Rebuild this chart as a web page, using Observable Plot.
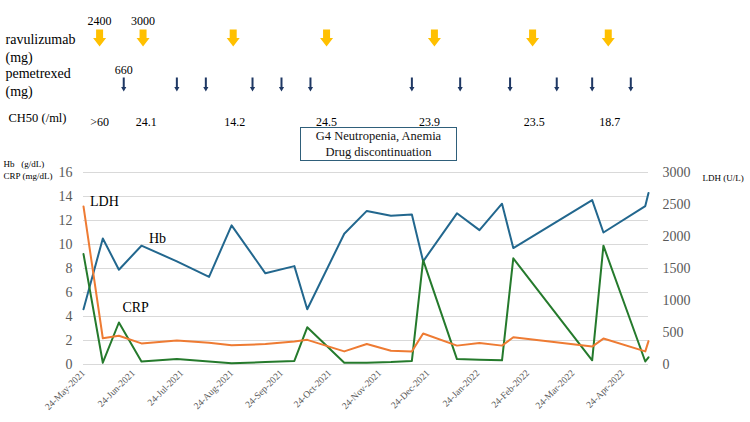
<!DOCTYPE html>
<html><head><meta charset="utf-8">
<script src="https://cdn.jsdelivr.net/npm/d3@7"></script>
<script src="https://cdn.jsdelivr.net/npm/@observablehq/plot@0.6"></script>
<style>
body{margin:0;background:#fff;}
#wrap{position:relative;width:750px;height:422px;font-family:"Liberation Serif","Times New Roman",serif;}
#wrap svg, #wrap svg text{font-family:"Liberation Serif","Times New Roman",serif !important;}
#box{position:absolute;left:300px;top:127px;width:157px;height:34px;box-sizing:border-box;border:1.5px solid #2F5F7A;display:flex;flex-direction:column;justify-content:center;align-items:center;font-size:12.5px;line-height:16px;color:#111;}
</style></head>
<body><div id="wrap"></div>
<script>
// ---- Laboratory data ----
const dates = ["2021-05-24","2021-06-05","2021-06-15","2021-06-29","2021-07-21","2021-08-10","2021-08-24","2021-09-14","2021-10-02","2021-10-10","2021-11-02","2021-11-16","2021-12-01","2021-12-14","2021-12-21","2022-01-11","2022-01-25","2022-02-08","2022-02-15","2022-04-05","2022-04-12","2022-05-08","2022-05-10"];
const hb  = [4.6,10.5,7.9,9.9,8.6,7.3,11.6,7.6,8.2,4.6,10.9,12.8,12.4,12.5,8.6,12.6,11.2,13.4,9.7,13.7,11.0,13.2,14.3];
const crp = [9.2,0.15,3.5,0.25,0.45,0.25,0.1,0.2,0.3,3.1,0.15,0.15,0.2,0.3,8.7,0.45,0.4,0.35,8.85,0.35,9.9,0.25,0.6];
const ldh = [2470,410,450,330,375,340,300,320,360,385,205,320,215,205,485,295,335,295,425,280,405,205,365];

// ---- Treatment annotations ----
const ravuDates = ["2021-06-03","2021-06-30","2021-08-25","2021-10-22","2021-12-28","2022-02-27","2022-04-15"];
const ravuDoses = ["2400","3000","","","","",""];
const pemeDates = ["2021-06-18","2021-07-21","2021-08-08","2021-09-06","2021-09-24","2021-10-12","2021-12-14","2022-01-13","2022-02-13","2022-03-14","2022-04-05","2022-04-29"];
const pemeDoses = ["660","","","","","","","","","","",""];
const ch50Dates = ["2021-06-03","2021-07-02","2021-08-26","2021-10-22","2021-12-25","2022-02-28","2022-04-16"];
const ch50Values = [">60","24.1","14.2","24.5","23.9","23.5","18.7"];

// ---- Axis ticks ----
const xTicks = ["2021-05-24","2021-06-24","2021-07-24","2021-08-24","2021-09-24","2021-10-24","2021-11-24","2021-12-24","2022-01-24","2022-02-24","2022-03-24","2022-04-24"];
const yTicks = [0,2,4,6,8,10,12,14,16];
const ldhTicks = [0,500,1000,1500,2000,2500,3000];

// ---- series labels (anchored to a data point) ----
const seriesLabels = [
  {name:"LDH", key:"ldh", index:0, dx:6.5, dy:-5},
  {name:"Hb",  key:"hb",  index:3, dx:7.5, dy:-7},
  {name:"CRP", key:"crp", index:2, dx:3.5, dy:-15}
];

const rows = dates.map((d,i)=>({date:new Date(d), hb:hb[i], crp:crp[i], ldh:ldh[i]}));
const Y_MAX = yTicks[yTicks.length-1], LDH_MAX = ldhTicks[ldhTicks.length-1];
const ldhY = v => v * Y_MAX / LDH_MAX;
const yOf = (key, r) => key === "ldh" ? ldhY(r.ldh) : r[key];

const colors = {hb:"#22678E", crp:"#257A2C", ldh:"#EE7B33"};
const FONT = "Liberation Serif";

const ravuRows = ravuDates.map((d,i)=>({date:new Date(d), dose:ravuDoses[i]}));
const pemeRows = pemeDates.map((d,i)=>({date:new Date(d), dose:pemeDoses[i]}));
const ch50Rows = ch50Dates.map((d,i)=>({date:new Date(d), value:ch50Values[i]}));

// block arrow shapes (drawn as custom dot symbols)
const blockArrow = {draw(c){c.moveTo(-3.5,-8.5);c.lineTo(3.5,-8.5);c.lineTo(3.5,0);c.lineTo(6.5,0);c.lineTo(0,8.5);c.lineTo(-6.5,0);c.lineTo(-3.5,0);c.closePath();}};
const thinArrow = {draw(c){c.moveTo(-1,-7);c.lineTo(1,-7);c.lineTo(1,2.5);c.lineTo(2.6,2.5);c.lineTo(0,7);c.lineTo(-2.6,2.5);c.lineTo(-1,2.5);c.closePath();}};

const label = (text, anchor, dx, dy, opts={}) => Plot.text([text], {frameAnchor:anchor, text:d=>d, dx, dy, textAnchor:"start", lineAnchor:"middle", fill:"#000", fontFamily:FONT, ...opts});

const chart = Plot.plot({
  width:750, height:422,
  marginTop:172, marginBottom:58, marginLeft:83, marginRight:102,
  style:{fontFamily:FONT, background:"#fff", color:"#000"},
  x:{type:"utc", domain:[new Date(dates[0]), new Date(dates[dates.length-1])], label:null},
  y:{domain:[0, Y_MAX], label:null},
  marks:[
    Plot.gridY({ticks:yTicks, stroke:"#d9d9d9", strokeOpacity:1, strokeWidth:1}),
    Plot.axisY({ticks:yTicks, anchor:"left", tickSize:0, tickPadding:11, fontSize:14, color:"#595959", label:null}),
    Plot.axisY({ticks:ldhTicks.map(ldhY), tickFormat:d=>String(Math.round(d*LDH_MAX/Y_MAX)), anchor:"right", tickSize:0, tickPadding:14, fontSize:14, color:"#595959", label:null}),
    Plot.axisX({ticks:xTicks.map(d=>new Date(d)), tickFormat:d3.utcFormat("%d-%b-%Y"), tickRotate:-45, tickSize:0, tickPadding:7, fontSize:9.5, color:"#595959", label:null}),
    Plot.line(rows, {x:"date", y:"hb", stroke:colors.hb, strokeWidth:2}),
    Plot.line(rows, {x:"date", y:"crp", stroke:colors.crp, strokeWidth:2}),
    Plot.line(rows, {x:"date", y:r=>ldhY(r.ldh), stroke:colors.ldh, strokeWidth:2}),
    ...seriesLabels.map(s => Plot.text([rows[s.index]], {x:"date", y:r=>yOf(s.key, r), text:()=>s.name, dx:s.dx, dy:s.dy, textAnchor:"start", fontSize:14, fill:"#000", fontFamily:FONT})),
    // annotations above the plot
    Plot.dot(ravuRows, {x:"date", frameAnchor:"top", dy:-134.5, symbol:blockArrow, fill:"#FFC000", stroke:"none"}),
    Plot.text(ravuRows, {x:"date", text:"dose", frameAnchor:"top", dy:-156, fontSize:12, fill:"#000", fontFamily:FONT}),
    Plot.dot(pemeRows, {x:"date", frameAnchor:"top", dy:-88, symbol:thinArrow, fill:"#1F3864", stroke:"none"}),
    Plot.text(pemeRows, {x:"date", text:"dose", frameAnchor:"top", dy:-107, fontSize:12, fill:"#000", fontFamily:FONT}),
    Plot.text(ch50Rows, {x:"date", text:"value", frameAnchor:"top", dy:-55, fontSize:12, fill:"#000", fontFamily:FONT}),
    label("ravulizumab", "top-left", -78, -133, {fontSize:14}),
    label("(mg)", "top-left", -78, -115, {fontSize:14}),
    label("pemetrexed", "top-left", -78, -99, {fontSize:14}),
    label("(mg)", "top-left", -78, -81, {fontSize:14}),
    label("CH50 (/ml)", "top-left", -75, -55, {fontSize:12.5}),
    label("Hb\u00a0\u00a0\u00a0(g/dL)", "top-left", -80, -8, {fontSize:9}),
    label("CRP (mg/dL)", "top-left", -80, 4, {fontSize:9}),
    label("LDH (U/L)", "top-right", 54, 6, {fontSize:9})
  ]
});
const wrap = document.getElementById("wrap");
wrap.appendChild(chart);
const box = document.createElement("div");
box.id = "box";
box.innerHTML = "<span>G4 Neutropenia, Anemia</span><span>Drug discontinuation</span>";
wrap.appendChild(box);
</script></body></html>
